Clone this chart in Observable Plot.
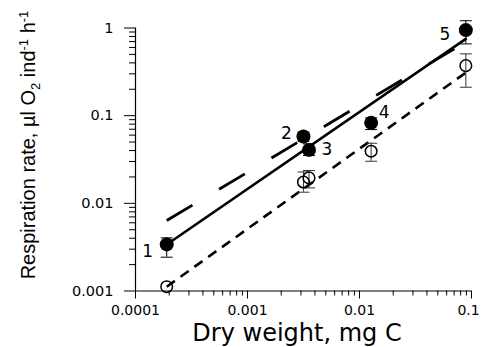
<!DOCTYPE html>
<html>
<head>
<meta charset="utf-8">
<script src="https://cdn.jsdelivr.net/npm/d3@7"></script>
<script src="https://cdn.jsdelivr.net/npm/@observablehq/plot@0.6"></script>
<style>
  html, body { margin: 0; padding: 0; background: white; }
</style>
</head>
<body>
<div id="chart"></div>
<script>
// ---- data ----
const dryWeight   = [0.00019, 0.00316, 0.00354, 0.0127, 0.089];
const rateFilled  = [0.0034, 0.0578, 0.0407, 0.0828, 0.946];
const filledLow   = [0.00243, 0.0511, 0.0351, 0.0694, 0.659];
const filledHigh  = [0.00404, 0.0647, 0.0477, 0.0944, 1.21];
const rateOpen    = [0.00112, 0.0175, 0.0195, 0.0393, 0.372];
const openLow     = [null, 0.0134, 0.0150, 0.0302, 0.211];
const openHigh    = [null, 0.0228, 0.0237, 0.0485, 0.507];
const pointLabels = ["1", "2", "3", "4", "5"];

const fitX          = [0.00019, 0.089];
const fitSolid      = [0.00339, 0.751];
const fitLongDash   = [0.00637, 0.694];
const fitShortDash  = [0.00112, 0.31];

const xTicks      = [0.0001, 0.001, 0.01, 0.1];
const xTickLabels = ["0.0001", "0.001", "0.01", "0.1"];
const yTicks      = [0.001, 0.01, 0.1, 1];
const yTickLabels = ["0.001", "0.01", "0.1", "1"];
const xTitle = "Dry weight, mg C";

// ---- derived tables ----
const filled = dryWeight.map((x, i) => ({x, y: rateFilled[i], lo: filledLow[i], hi: filledHigh[i], label: pointLabels[i]}));
const open = dryWeight.map((x, i) => ({x, y: rateOpen[i], lo: openLow[i], hi: openHigh[i]}));
const openBars = open.filter(d => d.lo != null);
const fit = arr => fitX.map((x, i) => ({x, y: arr[i]}));

const minor = (lo, hi) => {
  const out = [];
  for (let e = lo; e < hi; e++) for (let m = 2; m <= 9; m++) out.push(m * Math.pow(10, e));
  return out;
};
const xMinor = minor(-4, -1);
const yMinor = minor(-3, 0);

const cap = { draw(ctx) { ctx.moveTo(-6, 0); ctx.lineTo(6, 0); } };

const labelOffsets = [[-19, 7], [-17, -3], [18, 0], [13, -10], [-21, 4]];

const plot = Plot.plot({
  width: 481, height: 347,
  marginLeft: 135, marginRight: 10, marginTop: 27.5, marginBottom: 56.5,
  x: {type: "log", domain: [1e-4, 0.1], label: null},
  y: {type: "log", domain: [1e-3, 1], label: null},
  style: {fontFamily: "DejaVu Sans", fontSize: "14px", color: "black", background: "white"},
  marks: [
    Plot.axisX(xMinor, {tickSize: 5, tickFormat: () => "", label: null}),
    Plot.axisY(yMinor, {tickSize: 6, tickFormat: () => "", label: null}),
    Plot.axisX(xTicks, {tickSize: 8, tickPadding: 6, tickFormat: d => xTickLabels[xTicks.indexOf(d)], label: null}),
    Plot.axisY(yTicks, {tickSize: 11, tickPadding: 11, fontSize: 14.5, tickFormat: d => yTickLabels[yTicks.indexOf(d)], label: null}),
    Plot.ruleY([1e-3], {stroke: "black", strokeWidth: 1.2}),
    Plot.ruleX([1e-4], {stroke: "black", strokeWidth: 1.2}),
    Plot.line(fit(fitLongDash), {x: "x", y: "y", stroke: "black", strokeWidth: 2.8, strokeDasharray: "30,31", strokeLinecap: "butt"}),
    Plot.line(fit(fitShortDash), {x: "x", y: "y", stroke: "black", strokeWidth: 2.6, strokeDasharray: "10,7", strokeLinecap: "butt"}),
    Plot.line(fit(fitSolid), {x: "x", y: "y", stroke: "black", strokeWidth: 2.6}),
    Plot.ruleX(openBars, {x: "x", y1: "lo", y2: "hi", stroke: "#333", strokeWidth: 1}),
    Plot.dot(openBars, {x: "x", y: "lo", symbol: cap, r: 6, fill: "none", stroke: "#333", strokeWidth: 1}),
    Plot.dot(openBars, {x: "x", y: "hi", symbol: cap, r: 6, fill: "none", stroke: "#333", strokeWidth: 1}),
    Plot.ruleX(filled, {x: "x", y1: "lo", y2: "hi", stroke: "black", strokeWidth: 1}),
    Plot.dot(filled, {x: "x", y: "lo", symbol: cap, r: 6, fill: "none", stroke: "black", strokeWidth: 1}),
    Plot.dot(filled, {x: "x", y: "hi", symbol: cap, r: 6, fill: "none", stroke: "black", strokeWidth: 1}),
    Plot.dot(open, {x: "x", y: "y", r: 5.8, fill: "none", stroke: "black", strokeWidth: 1.5}),
    Plot.dot(filled, {x: "x", y: "y", r: 7, fill: "black", stroke: "none"}),
    ...filled.map((d, i) => Plot.text([d], {x: "x", y: "y", text: "label", dx: labelOffsets[i][0], dy: labelOffsets[i][1], fontSize: 17, fill: "black"})),
    Plot.text([xTitle], {frameAnchor: "bottom", text: d => d, dx: -6.5, dy: 42.5, fontSize: 24, lineAnchor: "middle", fill: "black"})
  ]
});

document.getElementById("chart").appendChild(plot);

const svg = d3.select(plot);

// keep the last x tick label ("0.1") inside the picture
svg.selectAll("text").filter(function() { return this.textContent === "0.1" && this.closest("[aria-label='x-axis tick label']"); })
  .attr("dx", -3);

// y-axis title with subscript / superscripts
const t = svg.append("text")
  .attr("transform", "translate(35,145) rotate(-90)")
  .attr("text-anchor", "middle")
  .attr("font-family", "Liberation Sans, Arial, sans-serif")
  .attr("font-size", 20)
  .attr("fill", "black");
t.append("tspan").text("Respiration rate, \u00b5l O");
t.append("tspan").attr("font-size", 13).attr("dy", 5).text("2");
t.append("tspan").attr("dy", -5).text(" ind");
t.append("tspan").attr("font-size", 13).attr("dy", -7).text("-1");
t.append("tspan").attr("dy", 7).text(" h");
t.append("tspan").attr("font-size", 13).attr("dy", -7).text("-1");
</script>
</body>
</html>
